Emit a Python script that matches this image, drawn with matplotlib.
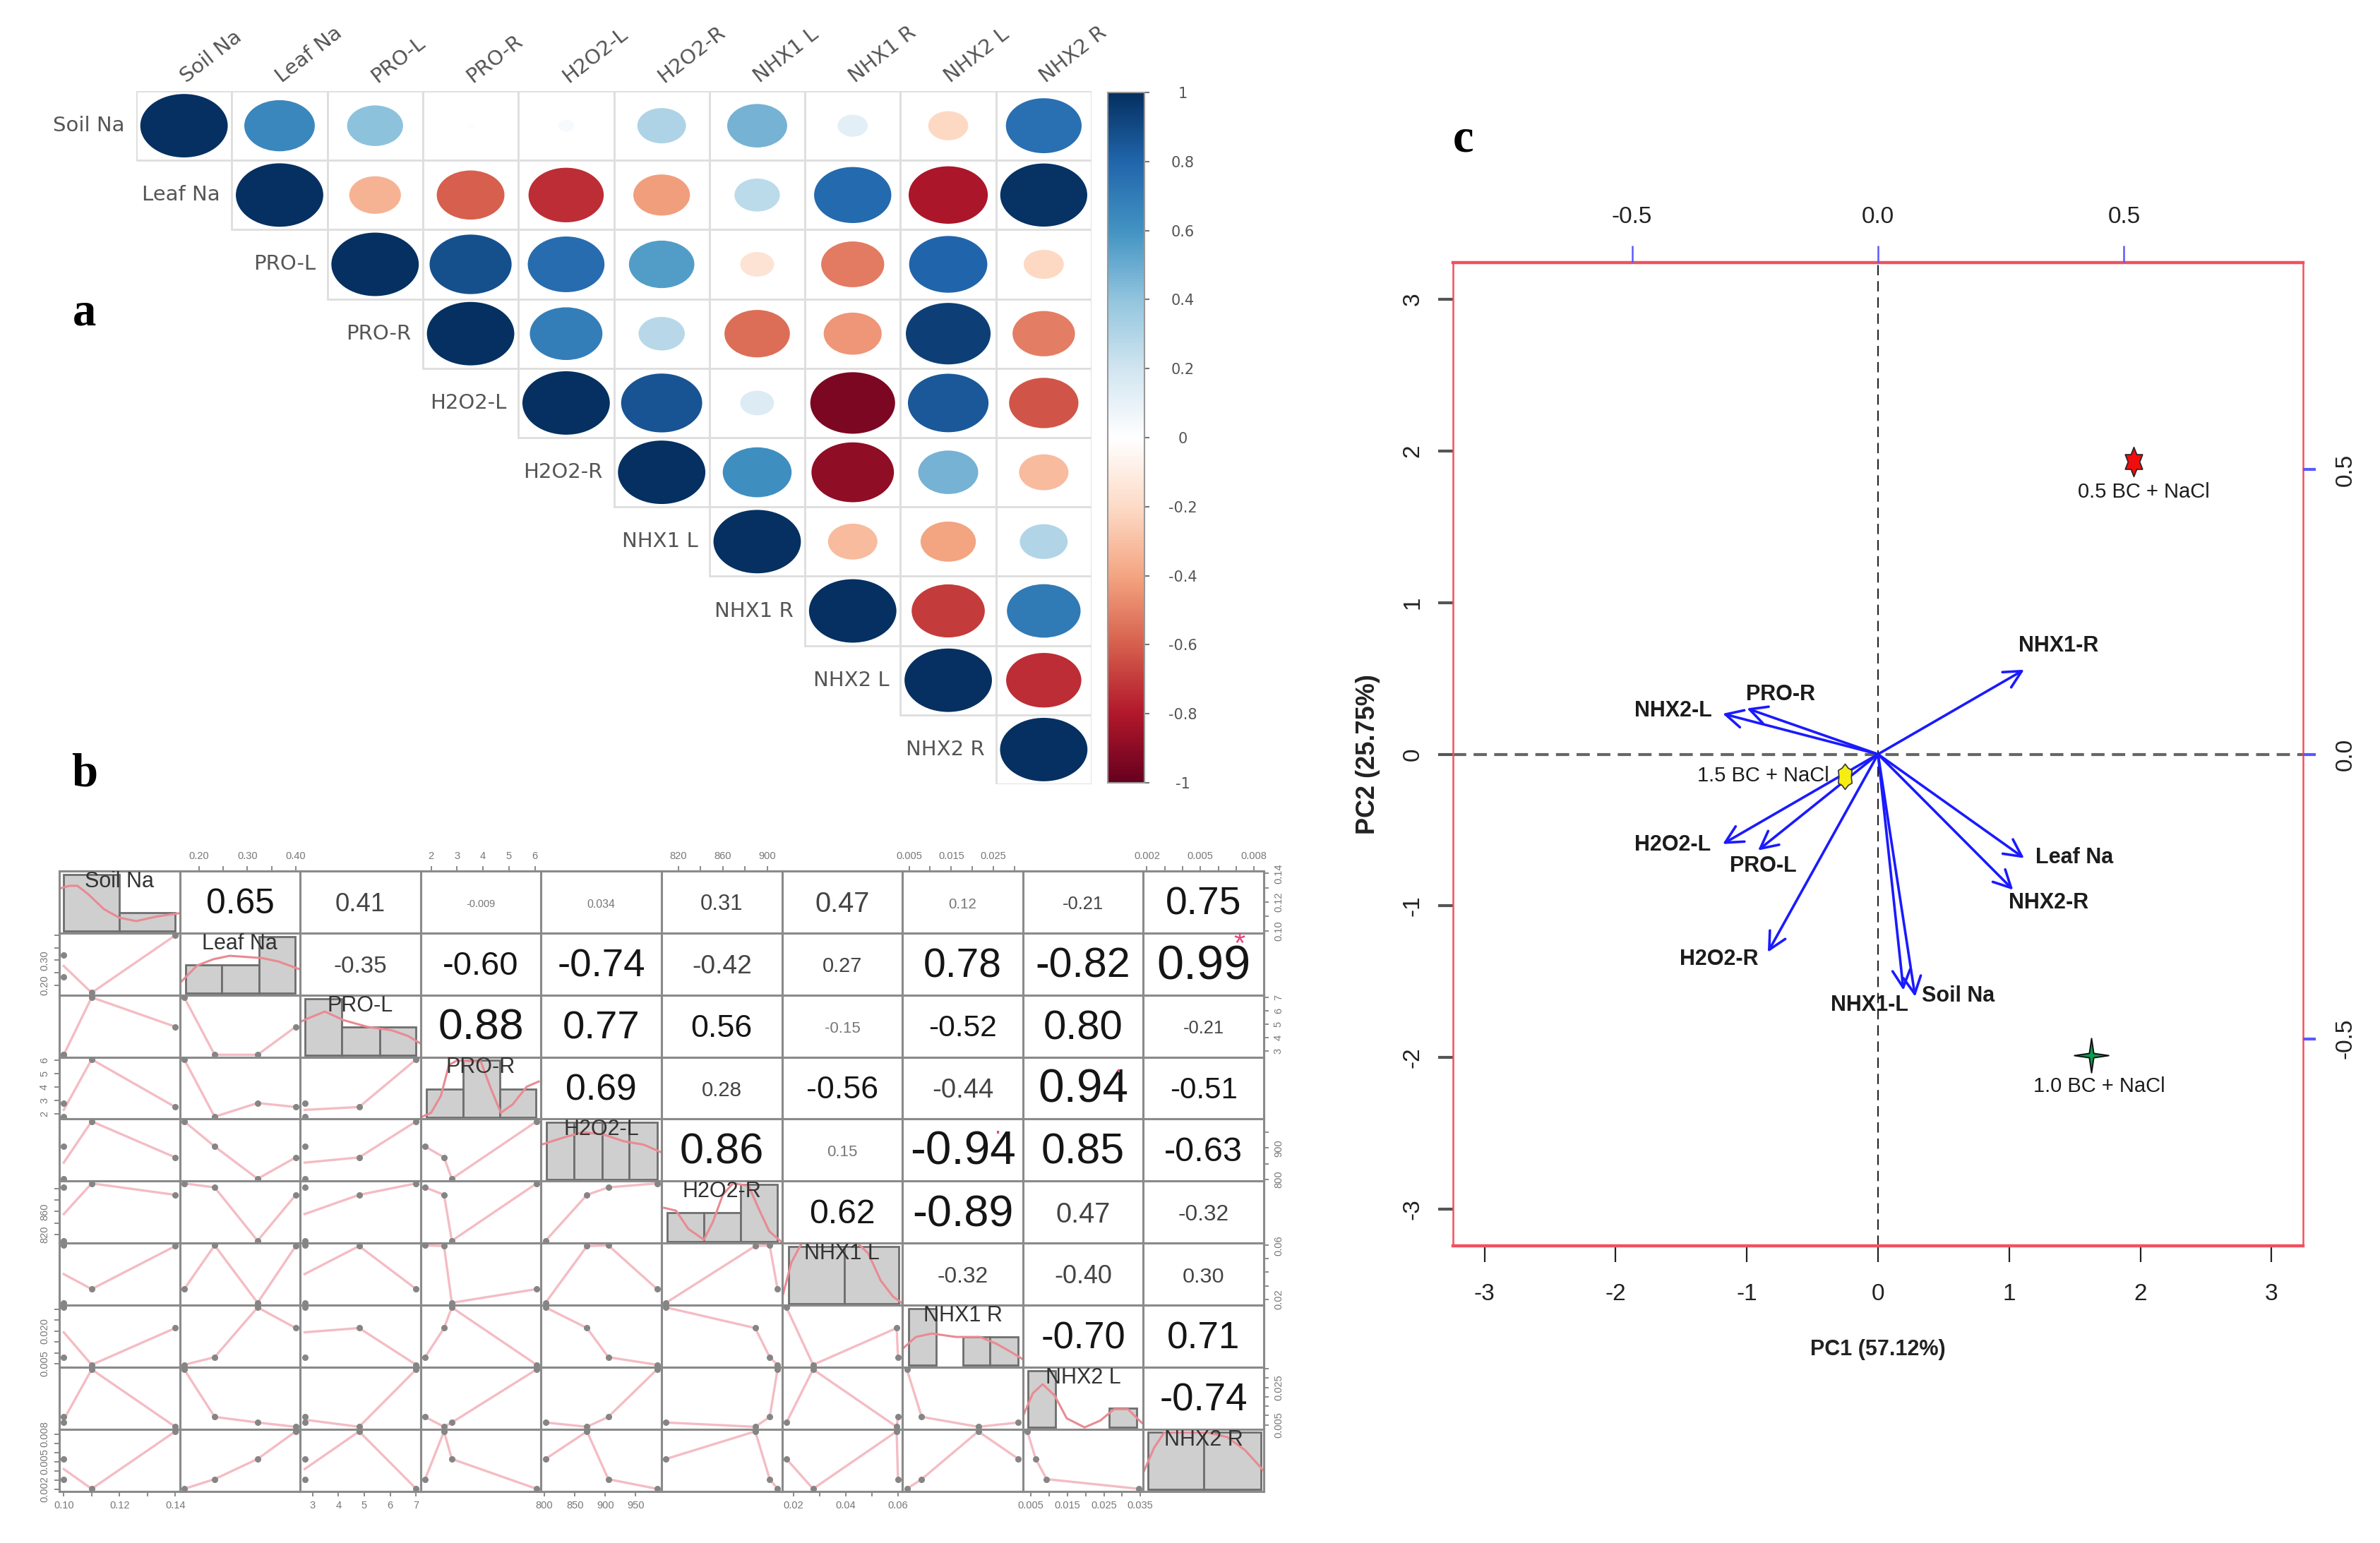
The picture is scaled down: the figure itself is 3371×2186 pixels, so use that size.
import numpy as np
import matplotlib
matplotlib.use("Agg")
import matplotlib.pyplot as plt
from matplotlib.colors import LinearSegmentedColormap, Normalize
from matplotlib.cm import ScalarMappable
from matplotlib.patches import Ellipse, Rectangle
from matplotlib.path import Path

plt.rcParams['font.family'] = ['Liberation Sans', 'DejaVu Sans']

W, H = 3371, 2186
DPI = 100

names_a = ["Soil Na", "Leaf Na", "PRO-L", "PRO-R", "H2O2-L", "H2O2-R", "NHX1 L", "NHX1 R", "NHX2 L", "NHX2 R"]

# upper triangle of the correlation matrix, row by row
r_soil_na = [1, 0.65, 0.41, -0.009, 0.034, 0.31, 0.47, 0.12, -0.21, 0.75]
r_leaf_na = [1, -0.35, -0.60, -0.74, -0.42, 0.27, 0.78, -0.82, 0.99]
r_pro_l = [1, 0.88, 0.77, 0.56, -0.15, -0.52, 0.80, -0.21]
r_pro_r = [1, 0.69, 0.28, -0.56, -0.44, 0.94, -0.51]
r_h2o2_l = [1, 0.86, 0.15, -0.94, 0.85, -0.63]
r_h2o2_r = [1, 0.62, -0.89, 0.47, -0.32]
r_nhx1_l = [1, -0.32, -0.40, 0.30]
r_nhx1_r = [1, -0.70, 0.71]
r_nhx2_l = [1, -0.74]
r_nhx2_r = [1]
r_rows = [r_soil_na, r_leaf_na, r_pro_l, r_pro_r, r_h2o2_l, r_h2o2_r, r_nhx1_l, r_nhx1_r, r_nhx2_l, r_nhx2_r]

# the four samples of each variable
soil_na = [0.14, 0.11, 0.10, 0.10]
leaf_na = [0.40, 0.169, 0.232, 0.321]
pro_l = [4.8, 7.0, 2.7, 2.7]
pro_r = [2.5, 6.07, 1.77, 2.8]
h2o2_l = [870, 985, 905, 802]
h2o2_r = [889, 909, 902, 809]
nhx1_l = [0.0595, 0.0275, 0.06, 0.0173]
nhx1_r = [0.0214, 0.0045, 0.0080, 0.0309]
nhx2_l = [0.0040, 0.0346, 0.0093, 0.0063]
nhx2_r = [0.0083, 0.00205, 0.0031, 0.0053]
samples = [soil_na, leaf_na, pro_l, pro_r, h2o2_l, h2o2_r, nhx1_l, nhx1_r, nhx2_l, nhx2_r]

# histogram bars on the diagonal
hist_edges = [
    [0.10, 0.12, 0.14],
    [0.1724, 0.2472, 0.3236, 0.3992],
    [2.7, 4.14, 5.59, 7.0],
    [1.82, 3.23, 4.65, 6.05],
    [803, 849, 895, 939, 985],
    [810, 843, 876, 909],
    [0.0181, 0.0394, 0.0604],
    [0.0049, 0.0114, 0.0178, 0.0242, 0.0309],
    [0.0042, 0.0117, 0.0191, 0.0265, 0.0340],
    [0.00205, 0.0052, 0.0084],
]
hist_counts = [
    [3, 1],
    [1, 1, 2],
    [2, 1, 1],
    [1, 2, 1],
    [1, 1, 1, 1],
    [1, 1, 2],
    [2, 2],
    [2, 0, 1, 1],
    [3, 0, 0, 1],
    [2, 2],
]

# density curves on the diagonal, height relative to the tallest bar
dens_x = [
    [0.0984, 0.1020, 0.1049, 0.1086, 0.1144, 0.1199, 0.1260, 0.1333, 0.1416],
    [0.1598, 0.1959, 0.2295, 0.2631, 0.2967, 0.3303, 0.3639, 0.4092],
    [2.53, 2.94, 3.48, 4.19, 5.13, 6.06, 6.69, 7.16],
    [1.6, 2.0, 2.38, 2.69, 3.0, 3.92, 4.31, 4.69, 5.15, 5.69, 6.15],
    [795, 830, 863, 897, 930, 963, 993],
    [807.3, 818, 829, 843, 851, 860, 869, 883, 892, 901.5, 912],
    [0.0160, 0.0192, 0.0229, 0.0359, 0.0486, 0.0534, 0.0581, 0.0617],
    [0.0036, 0.0066, 0.0104, 0.0161, 0.0218, 0.0257, 0.0295, 0.0321],
    [0.0031, 0.0055, 0.0082, 0.0115, 0.0148, 0.0197, 0.0240, 0.0278, 0.0316, 0.0354],
    [0.00182, 0.0024, 0.00297, 0.0040, 0.0054, 0.0065, 0.0075, 0.0086],
]
dens_y = [
    [0.75, 0.80, 0.80, 0.66, 0.39, 0.24, 0.18, 0.26, 0.32],
    [0.18, 0.49, 0.60, 0.66, 0.64, 0.62, 0.56, 0.42],
    [0.59, 0.67, 0.77, 0.62, 0.50, 0.44, 0.34, 0.21],
    [0.0, 0.08, 0.38, 0.92, 1.0, 0.98, 0.5, 0.08, 0.23, 0.54, 0.63],
    [0.61, 0.73, 0.83, 0.79, 0.67, 0.61, 0.47],
    [0.59, 0.54, 0.22, 0.03, 0.34, 0.82, 1.02, 0.98, 0.58, 0.18, 0.0],
    [0.16, 0.72, 1.04, 1.44, 0.88, 0.40, 0.12, 0.0],
    [0.30, 0.50, 0.56, 0.50, 0.50, 0.38, 0.22, 0.10],
    [0.24, 0.60, 0.76, 0.56, 0.16, 0.0, 0.12, 0.32, 0.32, 0.08],
    [0.31, 0.73, 1.0, 1.0, 1.0, 0.92, 0.69, 0.31],
]

# axis ticks and tick labels of the pairs panel
tick_vals = [
    [0.10, 0.11, 0.12, 0.13, 0.14],
    [0.20, 0.25, 0.30, 0.35, 0.40],
    [3, 4, 5, 6, 7],
    [2, 3, 4, 5, 6],
    [800, 850, 900, 950],
    [820, 840, 860, 880, 900],
    [0.02, 0.03, 0.04, 0.05, 0.06],
    [0.005, 0.010, 0.015, 0.020, 0.025, 0.030],
    [0.005, 0.010, 0.015, 0.020, 0.025, 0.030, 0.035],
    [0.002, 0.003, 0.004, 0.005, 0.006, 0.007, 0.008],
]
# labels along the top and bottom edge
tick_txt = [
    ["0.10", "", "0.12", "", "0.14"],
    ["0.20", "", "0.30", "", "0.40"],
    ["3", "4", "5", "6", "7"],
    ["2", "3", "4", "5", "6"],
    ["800", "850", "900", "950"],
    ["820", "", "860", "", "900"],
    ["0.02", "", "0.04", "", "0.06"],
    ["0.005", "", "0.015", "", "0.025", ""],
    ["0.005", "", "0.015", "", "0.025", "", "0.035"],
    ["0.002", "", "", "0.005", "", "", "0.008"],
]
# labels along the left and right edge, cells are low so there are fewer
tick_txt_y = [
    ["0.10", "", "0.12", "", "0.14"],
    ["0.20", "", "0.30", "", ""],
    ["3", "4", "5", "6", "7"],
    ["2", "3", "4", "5", "6"],
    ["800", "", "900", ""],
    ["820", "", "860", "", ""],
    ["0.02", "", "", "", "0.06"],
    ["0.005", "", "", "0.020", "", ""],
    ["0.005", "", "", "", "0.025", "", ""],
    ["0.002", "", "", "0.005", "", "", "0.008"],
]

# biplot
arrow_names = ["NHX1-R", "PRO-R", "NHX2-L", "H2O2-L", "PRO-L", "H2O2-R", "NHX1-L", "Soil Na", "NHX2-R", "Leaf Na"]
arrow_x = [1.114, -1.0, -1.184, -1.184, -0.915, -0.84, 0.194, 0.283, 1.03, 1.114]
arrow_y = [0.557, 0.302, 0.267, -0.592, -0.634, -1.305, -1.556, -1.598, -0.894, -0.685]
label_x = [1.378, -0.741, -1.561, -1.567, -0.875, -1.214, -0.065, 0.612, 1.298, 1.497]
label_y = [0.712, 0.394, 0.288, -0.597, -0.738, -1.353, -1.652, -1.593, -0.978, -0.682]
group_names = ["0.5 BC + NaCl", "1.0 BC + NaCl", "1.5 BC + NaCl"]
group_x = [1.95, 1.626, -0.254]
group_y = [1.928, -1.982, -0.148]
group_label_x = [2.024, 1.686, -0.875]
group_label_y = [1.726, -2.19, -0.142]
pc_ticks = [-3, -2, -1, 0, 1, 2, 3]
load_ticks = [-0.5, 0.0, 0.5]

corr_colors = ["#67001F", "#B2182B", "#D6604D", "#F4A582", "#FDDBC7", "#FFFFFF",
               "#D1E5F0", "#92C5DE", "#4393C3", "#2166AC", "#053061"]
corr_cmap = LinearSegmentedColormap.from_list("corr", corr_colors, N=256)


def px_axes(x0, y0, x1, y1):
    return fig.add_axes([x0 / W, 1 - y1 / H, (x1 - x0) / W, (y1 - y0) / H])


fig = plt.figure(figsize=(W / DPI, H / DPI), dpi=DPI, facecolor="white")

# ---- panel a: correlation circles ----
ax_a = px_axes(193, 129, 1546, 1111)
ax_a.set_xlim(0, 10)
ax_a.set_ylim(10, 0)
ax_a.axis("off")
for i, row in enumerate(r_rows):
    for k, r in enumerate(row):
        j = i + k
        ax_a.add_patch(Rectangle((j, i), 1, 1, fc="white", ec="#dedede", lw=2))
        d = 0.915 * np.sqrt(abs(r))
        ax_a.add_patch(Ellipse((j + 0.5, i + 0.5), d, d, fc=corr_cmap((r + 1) / 2), ec="none"))
    ax_a.text(i - 0.12, i + 0.5, names_a[i], ha="right", va="center", fontsize=21,
              family="DejaVu Sans", color="#555555")
    ax_a.text(i + 0.55, -0.06, names_a[i], ha="left", va="bottom", fontsize=21, rotation=38,
              rotation_mode="anchor", family="DejaVu Sans", color="#555555")

cax = px_axes(1569, 131, 1621, 1109)
cb = fig.colorbar(ScalarMappable(Normalize(-1, 1), corr_cmap), cax=cax)
cb_ticks = [1, 0.8, 0.6, 0.4, 0.2, 0, -0.2, -0.4, -0.6, -0.8, -1]
cb.set_ticks(cb_ticks)
cb.set_ticklabels(["1", "0.8", "0.6", "0.4", "0.2", "0", "-0.2", "-0.4", "-0.6", "-0.8", "-1"])
cax.tick_params(length=5, width=1.5, color="#777777", labelsize=15, labelcolor="#555555", pad=34)
for t in cax.get_yticklabels():
    t.set_ha("center")
    t.set_family("DejaVu Sans")
cb.outline.set_edgecolor("#999999")
cb.outline.set_linewidth(1.5)

# ---- panel b: pairs ----
col_edges = np.linspace(84, 1790, 11)
row_edges = np.linspace(1234, 2112.5, 11)
n = len(samples)

for i in range(n):
    for j in range(n):
        ax = px_axes(col_edges[j], row_edges[i], col_edges[j + 1], row_edges[i + 1])
        xs = np.array(samples[j], dtype=float)
        xmar = 0.04 * (xs.max() - xs.min())
        ax.set_xlim(xs.min() - xmar, xs.max() + xmar)
        ys = np.array(samples[i], dtype=float)
        ymar = 0.04 * (ys.max() - ys.min())
        ax.set_ylim(ys.min() - ymar, ys.max() + ymar)
        ax.set_xticks([])
        ax.set_yticks([])
        for s in ax.spines.values():
            s.set_color("#8a8a8a")
            s.set_linewidth(2.2)

        if i == j:
            top = max(hist_counts[i])
            ax.set_ylim(-0.03 * top, 1.06 * top)
            edges = hist_edges[i]
            for b, c in enumerate(hist_counts[i]):
                if c > 0:
                    ax.bar(edges[b], c, width=edges[b + 1] - edges[b], align="edge",
                           fc="#cfcfcf", ec="#6e6e6e", lw=2)
            ax.plot(dens_x[i], np.array(dens_y[i]) * top, color="#e98a92", lw=2.2)
            ax.text(0.5, 0.83, names_a[i], transform=ax.transAxes, ha="center", va="center",
                    fontsize=22, color="#333333", zorder=5)
        elif i > j:
            # grey points with a pink line through x-sorted means
            ax.plot(xs, ys, "o", ms=5.5, color="#858585", clip_on=False, zorder=4)
            ux = np.unique(xs)
            uy = [ys[xs == v].mean() for v in ux]
            ax.plot(ux, uy, color="#f4bcc3", lw=2.4, zorder=3)
        else:
            r = r_rows[i][j - i]
            txt = f"{r:.3f}" if abs(r) < 0.1 else f"{r:.2f}"
            a = abs(r)
            col = "#777777" if a < 0.2 else ("#444444" if a < 0.5 else "#151515")
            ax.text(0.5, 0.46, txt, transform=ax.transAxes, ha="center", va="center",
                    fontsize=(14 + 55 * a) * 0.72, color=col)
            if a >= 0.99:
                ax.text(0.80, 0.80, "*", transform=ax.transAxes, ha="center", va="center",
                        fontsize=30, color="#e8467c")
            elif a >= 0.94:
                ax.text(0.795, 0.76, ".", transform=ax.transAxes, ha="center", va="baseline",
                        fontsize=24, color="#e8467c")

        small = dict(length=5, width=1.2, color="#777777", labelcolor="#777777", labelsize=10.5, pad=5)
        if i == 0 and j % 2 == 1:
            ax.xaxis.tick_top()
            ax.set_xticks(tick_vals[j], tick_txt[j])
            ax.tick_params(axis="x", **small)
        if i == n - 1 and j % 2 == 0:
            ax.set_xticks(tick_vals[j], tick_txt[j])
            ax.tick_params(axis="x", **small)
        if j == 0 and i % 2 == 1:
            ax.set_yticks(tick_vals[i], tick_txt_y[i], rotation=90, va="center")
            ax.tick_params(axis="y", **small)
        if j == n - 1 and i % 2 == 0:
            ax.yaxis.tick_right()
            ax.set_yticks(tick_vals[i], tick_txt_y[i], rotation=90, va="center")
            ax.tick_params(axis="y", **small)

# ---- panel c: biplot ----
ax_c = px_axes(2058, 372, 3262, 1765)
ax_c.set_xlim(-3.24, 3.24)
ax_c.set_ylim(-3.24, 3.24)
frame = "#f2505f"
for side, lw in [("top", 3.2), ("bottom", 3.2), ("left", 1.8), ("right", 1.8)]:
    ax_c.spines[side].set_color(frame)
    ax_c.spines[side].set_linewidth(lw)
ax_c.axhline(0, color="#666666", lw=3, ls=(0, (4.5, 2.5)), zorder=1)
ax_c.axvline(0, color="#222222", lw=1.5, ls=(0, (7, 4)), zorder=1)

ax_c.set_xticks(pc_ticks, [str(v) for v in pc_ticks])
ax_c.set_yticks(pc_ticks, [str(v) for v in pc_ticks], rotation=90, va="center")
ax_c.tick_params(axis="x", length=16.5, width=1.6, color="#222222", labelsize=24, labelcolor="#222222", pad=22)
ax_c.tick_params(axis="y", length=15, width=3, color="#555555", labelsize=24, labelcolor="#222222", pad=15)
ax_c.set_xlabel("PC1 (57.12%)", fontsize=22, fontweight="bold", labelpad=34, color="#222222")
ax_c.set_ylabel("PC2 (25.75%)", fontsize=26, fontweight="bold", labelpad=22, color="#222222")

for name, x, y, lx, ly in zip(arrow_names, arrow_x, arrow_y, label_x, label_y):
    ax_c.annotate("", xy=(x, y), xytext=(0, 0),
                  arrowprops=dict(arrowstyle="->,head_length=0.55,head_width=0.28", color="#1a1aff",
                                  lw=2.6, shrinkA=0, shrinkB=0, mutation_scale=32), zorder=3)
    ax_c.text(lx, ly, name, ha="center", va="center", fontsize=22, fontweight="bold", color="#1c1c1c", zorder=5)

# stretched star markers, the panel is not square in its original
star6 = Path(Path.unit_regular_star(6, 0.58).vertices * [0.68, 1.0], Path.unit_regular_star(6, 0.58).codes)
blob6 = Path(Path.unit_regular_star(6, 0.78).vertices * [0.62, 1.0], Path.unit_regular_star(6, 0.78).codes)
star4 = Path.unit_regular_star(4, 0.18)
ax_c.plot(group_x[0], group_y[0], marker=star6, ms=30, mfc="#f00d0d", mec="#222222", mew=1.2, zorder=6)
ax_c.plot(group_x[1], group_y[1], marker=star4, ms=35, mfc="#0a9d50", mec="#111111", mew=1.4, zorder=6)
ax_c.plot(group_x[2], group_y[2], marker=blob6, ms=26, mfc="#f5ee10", mec="#333333", mew=1.2, zorder=6)
for name, x, y in zip(group_names, group_label_x, group_label_y):
    ax_c.text(x, y, name, ha="center", va="center", fontsize=21, color="#1c1c1c", zorder=5)

ax_top = ax_c.twiny()
ax_top.set_xlim(-0.864, 0.864)
ax_top.set_xticks(load_ticks, [f"{v:.1f}" for v in load_ticks])
ax_top.tick_params(axis="x", length=17, width=1.8, color="#5a5aff", labelsize=24, labelcolor="#222222", pad=18)
ax_right = ax_c.twinx()
ax_right.set_ylim(-0.864, 0.864)
ax_right.set_yticks(load_ticks, [f"{v:.1f}" for v in load_ticks], rotation=90, va="center")
ax_right.tick_params(axis="y", length=13, width=3, color="#5a5aff", labelsize=24, labelcolor="#222222", pad=19)
for extra in (ax_top, ax_right):
    for s in extra.spines.values():
        s.set_visible(False)

# panel letters
for letter, x, y in [("a", 120, 444), ("b", 120, 1097), ("c", 2073, 198)]:
    fig.text(x / W, 1 - y / H, letter, ha="center", va="center", fontsize=48, fontweight="bold",
             family="Liberation Serif", color="black")

fig.savefig("out.png", dpi=DPI)
